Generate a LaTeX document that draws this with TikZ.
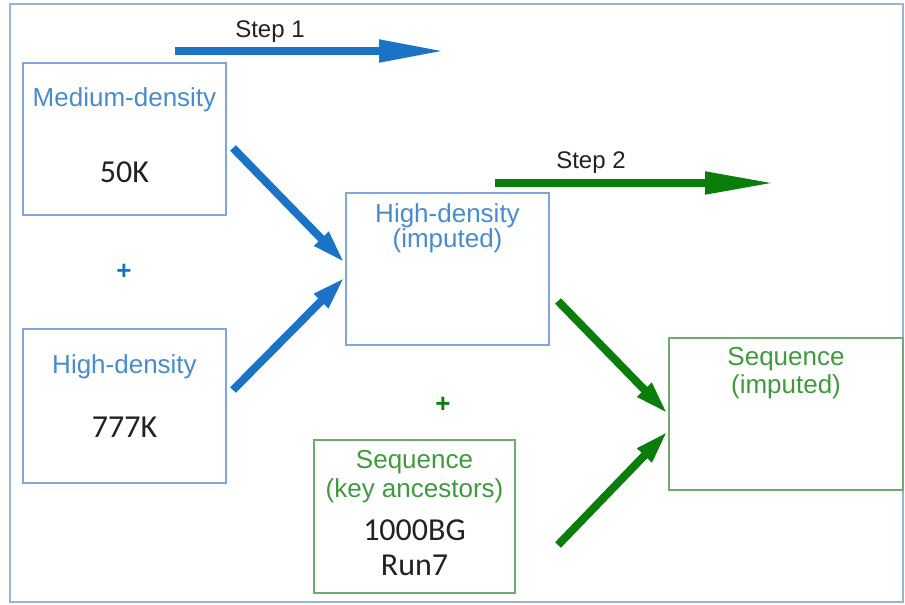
\documentclass[tikz,border=0pt]{standalone}
\usepackage{fontspec}
\setmainfont{Liberation Sans}
\newfontfamily\numfont{Carlito}
\usetikzlibrary{arrows.meta}
\definecolor{arrblue}{HTML}{1A73C4}
\definecolor{boxblue}{HTML}{7FA6D6}
\definecolor{txtblue}{HTML}{4A8BCB}
\definecolor{outerc}{HTML}{9AB3D5}
\definecolor{arrgreen}{HTML}{0B7D0B}
\definecolor{txtgreen}{HTML}{3F9A3F}
\definecolor{boxgreen}{HTML}{6FAA6F}
\definecolor{numc}{HTML}{222222}
\tikzset{
  bbox/.style={draw=boxblue, line width=1.5pt, rectangle, inner sep=0pt},
  gbox/.style={draw=boxgreen, line width=1.5pt, rectangle, inner sep=0pt},
  lbl/.style={inner sep=0pt, anchor=base, font=\fontsize{26}{30}\selectfont},
  bl/.style={lbl, text=txtblue},
  gl/.style={lbl, text=txtgreen},
  num/.style={inner sep=0pt, anchor=base, text=numc, font=\numfont\fontsize{32}{36}\selectfont},
  steplbl/.style={inner sep=0pt, anchor=base, text=numc, font=\fontsize{24}{28}\selectfont},
  plus/.style={inner sep=0pt, font=\bfseries\fontsize{26}{30}\selectfont},
  barrow/.style={draw=arrblue, line width=8pt, -{Triangle[length=34pt, width=18pt]}},
  garrow/.style={draw=arrgreen, line width=8pt, -{Triangle[length=34pt, width=18pt]}},
  sbarrow/.style={draw=arrblue, line width=8pt, -{Triangle[length=66pt, width=21pt]}},
  sgarrow/.style={draw=arrgreen, line width=8pt, -{Triangle[length=70pt, width=21pt]}},
}
\begin{document}
\begin{tikzpicture}[x=1pt, y=-1pt]
\useasboundingbox (0,0) rectangle (905,605);
\fill[white] (0,0) rectangle (905,605);
\draw[outerc, line width=1.5pt] (10,4) rectangle (903,602);

% boxes
\node[bbox, minimum width=203pt, minimum height=152pt] (med) at (124.5,139) {};
\node[bbox, minimum width=203pt, minimum height=154pt] (high) at (124.5,406) {};
\node[bbox, minimum width=203pt, minimum height=152pt] (himp) at (447.5,269) {};
\node[gbox, minimum width=201pt, minimum height=153pt] (seqk) at (414.5,516.5) {};
\node[gbox, minimum width=234pt, minimum height=152pt] (seqi) at (786,414) {};

% texts
\node[bl] (t1) at (124.5,106) {Medium-density};
\node[num] (t2) at (124.5,182) {50K};
\node[bl] (t3) at (124.5,373) {High-density};
\node[num] (t4) at (124.5,437) {777K};
\node[bl] (t5) at (447.5,222) {High-density};
\node[bl] (t6) at (447.5,247) {(imputed)};
\node[gl] (t7) at (414.5,468) {Sequence};
\node[gl] (t8) at (414.5,497) {(key ancestors)};
\node[num] (t9) at (414.5,540) {1000BG};
\node[num] (t10) at (414.5,575) {Run7};
\node[gl] (t11) at (786,365) {Sequence};
\node[gl] (t12) at (786,393) {(imputed)};

\node[plus, text=arrblue] (p1) at (124,272) {+};
\node[plus, text=arrgreen] (p2) at (443,405) {+};

% step arrows
\node[steplbl] (s1) at (270,37) {Step 1};
\node[steplbl] (s2) at (591,168) {Step 2};
\coordinate (s1a) at (175,51);
\coordinate (s1b) at (445,51);
\coordinate (s2a) at (495,183);
\coordinate (s2b) at (775,183);
\draw[sbarrow] (s1a) -- (s1b);
\draw[sgarrow] (s2a) -- (s2b);

% diagonal arrows
\coordinate (b1s) at (233,148);
\coordinate (b1e) at (345,263);
\coordinate (b2s) at (233,390);
\coordinate (b2e) at (345,277);
\coordinate (g1s) at (558,301);
\coordinate (g1e) at (668,414);
\coordinate (g2s) at (558,545);
\coordinate (g2e) at (668,431);
\draw[barrow] (b1s) -- (b1e);
\draw[barrow] (b2s) -- (b2e);
\draw[garrow] (g1s) -- (g1e);
\draw[garrow] (g2s) -- (g2e);
\end{tikzpicture}
\end{document}
